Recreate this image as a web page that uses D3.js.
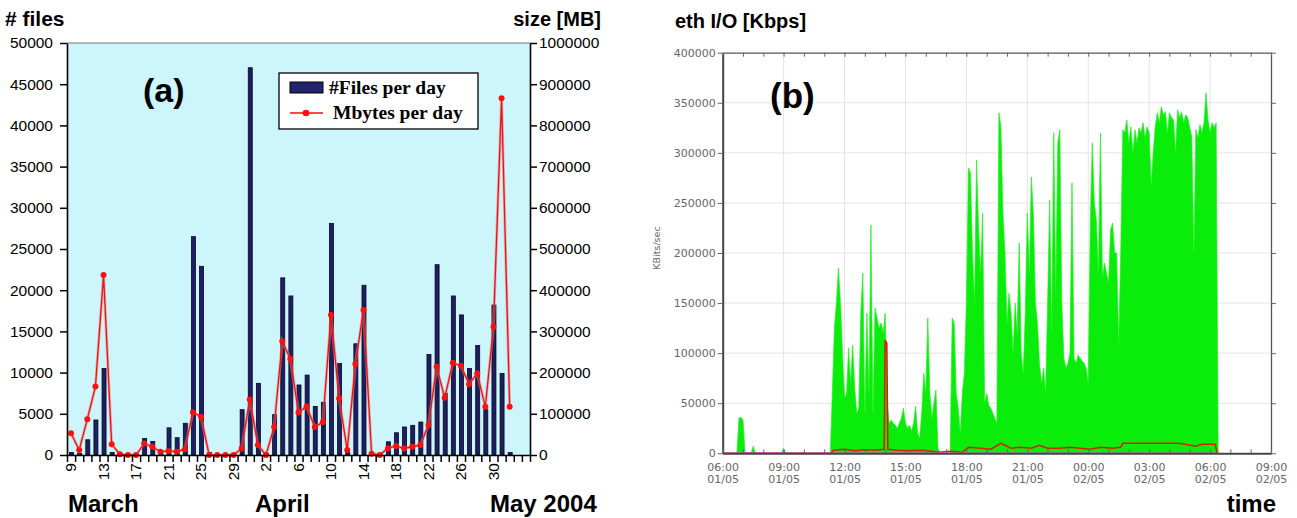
<!DOCTYPE html>
<html><head><meta charset="utf-8">
<script src="https://cdn.jsdelivr.net/npm/d3@7"></script>
<style>
html,body{margin:0;padding:0;background:#fff;}
svg{display:block;}
</style></head><body>
<svg id="c" width="1297" height="518"></svg>
<script>
// ---------- Panel (a) data ----------
const days = [9,10,11,12,13,14,15,16,17,18,19,20,21,22,23,24,25,26,27,28,29,30,31,
  1,2,3,4,5,6,7,8,9,10,11,12,13,14,15,16,17,18,19,20,21,22,23,24,25,26,27,28,29,30,
  1,2,3,4];
const filesPerDay = [300,200,1850,4250,10500,300,100,100,100,2000,
  1650,400,3300,2100,3850,26500,22900,300,100,100,
  100,5500,47000,8700,200,4900,21500,19300,8500,9700,
  5900,6400,28100,11100,300,13500,20600,200,100,1600,
  2700,3400,3600,4000,12200,23100,7500,19300,17000,10500,
  13300,5500,18200,9900,300,0,0];
const mbytesPerDay = [53000,12000,87000,166000,437000,26000,2000,0,0,28000,
  20000,8000,10000,8000,14000,104000,93000,0,0,0,
  0,16000,135000,24000,0,68000,276000,233000,103000,118000,
  68000,80000,340000,137000,12000,221000,352000,3000,0,16000,
  22000,16000,20000,24000,73000,214000,139000,224000,216000,172000,
  198000,117000,311000,866000,117000];
const filesTicks = [0,5000,10000,15000,20000,25000,30000,35000,40000,45000,50000];
const mbTicks = [0,100000,200000,300000,400000,500000,600000,700000,800000,900000,1000000];
const dayLabelIdx = [0,4,8,12,16,20,24,28,32,36,40,44,48,52];

// ---------- Panel (b) data ----------
const greenStepHours = 0.1; // one sample every 6 minutes from 06:00 01/05
const ethGreen = [
  0,0,0,0,0,0,0,0,35000,36000,
  33000,0,0,0,0,7000,0,0,0,0,
  0,0,0,0,0,0,0,0,0,0,
  5000,0,0,0,0,0,0,0,0,0,
  0,0,0,0,0,0,0,0,0,0,
  0,0,0,0,62000,125000,150000,185000,150000,100000,
  55000,60000,105000,70000,108000,65000,40000,45000,140000,180000,
  40000,140000,60000,228000,40000,145000,135000,125000,130000,120000,
  140000,50000,30000,33000,30000,28000,25000,30000,35000,45000,
  30000,25000,28000,22000,30000,47000,20000,15000,40000,80000,
  60000,135000,60000,35000,50000,63000,5000,0,0,0,
  0,0,0,135000,130000,60000,45000,20000,60000,80000,
  150000,285000,280000,200000,150000,293000,225000,180000,240000,50000,
  60000,48000,45000,40000,35000,30000,340000,326000,240000,200000,
  130000,160000,140000,100000,150000,120000,210000,100000,80000,140000,
  240000,180000,276000,238000,150000,130000,90000,70000,85000,60000,
  150000,253000,120000,320000,160000,310000,323000,150000,95000,85000,
  90000,100000,270000,95000,90000,98000,95000,92000,90000,85000,
  70000,230000,310000,250000,233000,180000,320000,175000,190000,180000,
  170000,223000,230000,200000,200000,110000,200000,323000,320000,333000,
  310000,326000,300000,323000,310000,325000,320000,330000,315000,326000,
  320000,268000,300000,326000,340000,330000,346000,338000,341000,320000,
  340000,335000,333000,300000,343000,335000,341000,330000,338000,335000,
  325000,316000,200000,323000,315000,328000,320000,330000,360000,333000,
  320000,330000,325000,330000,0];
const redHours = [0,5.35,5.45,6.0,6.5,7.0,7.5,7.95,8.0,8.08,8.13,8.6,9.2,9.8,10.3,10.6,11.2,11.8,12.1,12.7,
  13.2,13.7,14.2,14.6,15.2,15.6,16.0,16.6,17.1,17.6,18.1,18.6,19.2,19.6,19.7,22.4,22.6,23.3,23.6,24.25,24.35];
const redVals = [0,0,3000,4000,2500,3500,3000,4000,113000,110000,4000,3000,2500,3000,2000,1000,2000,1000,6000,5000,
  4000,10000,5000,6000,5000,8000,5000,5000,6000,5000,4000,6000,5000,6000,10000,10000,9500,7000,9000,9000,0];
const magentaHours = [0,24.4];
const magentaVals = [0,0];
const ethYTicks = [0,50000,100000,150000,200000,250000,300000,350000,400000];
const timeTickHours = [0,3,6,9,12,15,18,21,24,27];
const timeTickClock = ["06:00","09:00","12:00","15:00","18:00","21:00","00:00","03:00","06:00","09:00"];
const timeTickDate = ["01/05","01/05","01/05","01/05","01/05","01/05","02/05","02/05","02/05","02/05"];

const svg = d3.select('#c');
const SANS = 'Liberation Sans, Arial, Helvetica, sans-serif';

// ================= Panel (a) =================
const A = {left:67, right:530, top:43, bottom:455};
const xBand = d3.scaleBand().domain(d3.range(days.length)).range([A.left, A.right]).padding(0);
const xEdge = d3.scaleLinear().domain([0, days.length]).range([A.left, A.right]);
const yF = d3.scaleLinear().domain([0, 50000]).range([A.bottom, A.top]);
const yM = d3.scaleLinear().domain([0, 1000000]).range([A.bottom, A.top]);
const cx = i => xBand(i) + xBand.bandwidth()/2;

svg.append('rect').attr('x', A.left).attr('y', A.top)
  .attr('width', A.right - A.left).attr('height', A.bottom - A.top).attr('fill', '#cdf6fc');
svg.append('line').attr('x1', A.left).attr('x2', A.right).attr('y1', A.top).attr('y2', A.top)
  .attr('stroke', '#777').attr('stroke-width', 1.2);

svg.append('g').selectAll('rect').data(filesPerDay).join('rect')
  .attr('x', (d,i) => cx(i) - 1.5)
  .attr('width', 4)
  .attr('y', d => yF(d))
  .attr('height', d => yF(0) - yF(d))
  .attr('fill', '#1e1e62').attr('stroke', '#08081e').attr('stroke-width', 0.8);

const mbLine = d3.line().x((d,i) => cx(i)).y(d => yM(d));
svg.append('path').attr('d', mbLine(mbytesPerDay)).attr('fill', 'none')
  .attr('stroke', '#f08080').attr('stroke-width', 3).attr('opacity', 0.55);
svg.append('path').attr('d', mbLine(mbytesPerDay)).attr('fill', 'none')
  .attr('stroke', '#ee1111').attr('stroke-width', 1.3);
svg.append('g').selectAll('circle').data(mbytesPerDay).join('circle')
  .attr('cx', (d,i) => cx(i)).attr('cy', d => yM(d)).attr('r', 3).attr('fill', '#ff1010');

// axes
const gl = svg.append('g').attr('transform', `translate(${A.left},0)`)
  .call(d3.axisLeft(yF).tickValues(filesTicks).tickSize(7).tickSizeOuter(0).tickPadding(7).tickFormat(d3.format('d')));
const gr = svg.append('g').attr('transform', `translate(${A.right},0)`)
  .call(d3.axisRight(yM).tickValues(mbTicks).tickSize(7).tickSizeOuter(0).tickPadding(2).tickFormat(d3.format('d')));
const gb = svg.append('g').attr('transform', `translate(0,${A.bottom})`)
  .call(d3.axisBottom(xEdge).tickValues(d3.range(0, days.length + 1)).tickSize(7).tickSizeOuter(0).tickFormat(''));
const gbl = svg.append('g').attr('transform', `translate(0,${A.bottom})`)
  .call(d3.axisBottom(xBand).tickValues(dayLabelIdx).tickSize(0).tickFormat(i => days[i]));
gbl.select('.domain').remove();
gbl.selectAll('text').attr('y', 0).attr('x', -8).attr('dy', '0.35em')
  .attr('transform', 'rotate(-90)').style('text-anchor', 'end');
[gl, gr, gb].forEach(g => {
  g.select('.domain').attr('stroke', '#000').attr('stroke-width', 1.6);
  g.selectAll('.tick line').attr('stroke', '#000').attr('stroke-width', 1.5);
});
[gl, gr, gbl].forEach(g => g.selectAll('text')
  .attr('font-family', SANS).attr('font-size', 15.5).attr('fill', '#000'));

// legend
const lg = svg.append('g');
lg.append('rect').attr('x', 279).attr('y', 73).attr('width', 199).attr('height', 56)
  .attr('fill', '#fff').attr('stroke', '#000').attr('stroke-width', 1.3);
lg.append('rect').attr('x', 290).attr('y', 82).attr('width', 33).attr('height', 11)
  .attr('fill', '#24246e').attr('stroke', '#000').attr('stroke-width', 1);
lg.append('line').attr('x1', 290).attr('x2', 323).attr('y1', 113).attr('y2', 113)
  .attr('stroke', '#ee1111').attr('stroke-width', 1.4);
lg.append('circle').attr('cx', 306).attr('cy', 113).attr('r', 3.3).attr('fill', '#ff1010');
lg.append('text').attr('x', 329).attr('y', 94).text('#Files per day')
  .attr('font-family', 'Liberation Serif, Times New Roman, serif').attr('font-weight', 'bold').attr('font-size', 19.5);
lg.append('text').attr('x', 333).attr('y', 119).text('Mbytes per day')
  .attr('font-family', 'Liberation Serif, Times New Roman, serif').attr('font-weight', 'bold').attr('font-size', 19.5);

// big labels
const big = (x, y, t, size, anchor) => svg.append('text').attr('x', x).attr('y', y).text(t)
  .attr('font-family', SANS).attr('font-weight', 'bold').attr('font-size', size)
  .attr('text-anchor', anchor || 'start').attr('fill', '#000');
big(5, 26, '# files', 21);
big(601, 26, 'size [MB]', 20, 'end');
big(143, 102, '(a)', 34);
big(68, 512, 'March', 24);
big(255, 512, 'April', 24);
big(490, 512, 'May 2004', 24);

// ================= Panel (b) =================
const B = {left:722.7, right:1271, top:52.7, bottom:453.3};
const xB = d3.scaleLinear().domain([0, 27]).range([B.left, B.right]);
const yB = d3.scaleLinear().domain([0, 400000]).range([B.bottom, B.top]);

// grid
svg.append('g').selectAll('line').data(timeTickHours.slice(1, -1)).join('line')
  .attr('x1', d => xB(d)).attr('x2', d => xB(d)).attr('y1', B.top).attr('y2', B.bottom)
  .attr('stroke', '#e4e4e4').attr('stroke-width', 1);
svg.append('g').selectAll('line').data(ethYTicks.slice(1, -1)).join('line')
  .attr('x1', B.left).attr('x2', B.right).attr('y1', d => yB(d)).attr('y2', d => yB(d))
  .attr('stroke', '#e4e4e4').attr('stroke-width', 1);

// green area
const greenPts = ethGreen.map((v, k) => ({h: k * greenStepHours, v}));
const area = d3.area().x(d => xB(d.h)).y0(yB(0)).y1(d => yB(d.v));
svg.append('path').attr('d', area(greenPts)).attr('fill', '#0aec0a')
  .attr('stroke', '#22f022').attr('stroke-width', 0.7);

// red line
const redPts = redHours.map((h, i) => ({h, v: redVals[i]}));
const lineB = d3.line().x(d => xB(d.h)).y(d => yB(d.v));
svg.append('path').attr('d', lineB(redPts)).attr('fill', 'none')
  .attr('stroke', '#d82000').attr('stroke-width', 1.6);
const magPts = magentaHours.map((h, i) => ({h, v: magentaVals[i]}));
svg.append('path').attr('d', lineB(magPts)).attr('fill', 'none')
  .attr('stroke', '#ff44ff').attr('stroke-width', 1.6);

// axes (b)
const bl = svg.append('g').attr('transform', `translate(${B.left},0)`)
  .call(d3.axisLeft(yB).tickValues(ethYTicks).tickSize(5).tickSizeOuter(0).tickPadding(2).tickFormat(d3.format('d')));
const br = svg.append('g').attr('transform', `translate(${B.right},0)`)
  .call(d3.axisLeft(yB).tickValues(ethYTicks).tickSize(-5).tickSizeOuter(0).tickFormat(''));
const bt = svg.append('g').attr('transform', `translate(0,${B.top})`)
  .call(d3.axisBottom(xB).tickValues(d3.range(0, 28)).tickSize(4).tickSizeOuter(0).tickFormat(''));
const bb = svg.append('g').attr('transform', `translate(0,${B.bottom})`)
  .call(d3.axisTop(xB).tickValues(d3.range(0, 28)).tickSize(4).tickSizeOuter(0).tickFormat(''));
const bbl = svg.append('g').attr('transform', `translate(0,${B.bottom})`)
  .call(d3.axisBottom(xB).tickValues(timeTickHours).tickSize(0).tickPadding(10).tickFormat(''));
bbl.select('.domain').remove();
bbl.selectAll('.tick text').each(function(d, i) {
  const t = d3.select(this).attr('dy', null).attr('y', 18);
  t.append('tspan').attr('x', 0).attr('y', 18).text(timeTickClock[i]);
  t.append('tspan').attr('x', 0).attr('y', 30).text(timeTickDate[i]);
});
[bl, br, bt, bb].forEach(g => {
  g.select('.domain').attr('stroke', '#555').attr('stroke-width', 1.3);
  g.selectAll('.tick line').attr('stroke', '#666').attr('stroke-width', 1);
});
bl.select('.domain').attr('stroke', '#444').attr('stroke-width', 2);
bb.select('.domain').attr('stroke', '#444').attr('stroke-width', 2);
[bl, bbl].forEach(g => g.selectAll('text')
  .attr('font-family', 'DejaVu Sans, sans-serif').attr('font-size', 11).attr('fill', '#666'));

svg.append('text').attr('transform', 'translate(660,248) rotate(-90)').attr('text-anchor', 'middle')
  .attr('font-family', 'DejaVu Sans, sans-serif').attr('font-size', 9.5).attr('fill', '#666').text('KBits/sec');

big(675, 28, 'eth I/O [Kbps]', 20);
big(770, 108, '(b)', 35);
big(1276, 512, 'time', 24, 'end');
</script>
</body></html>
